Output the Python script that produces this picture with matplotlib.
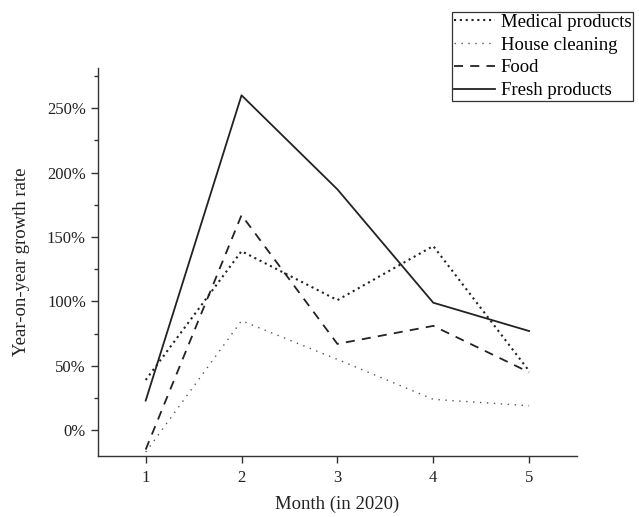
import matplotlib
matplotlib.use("Agg")
import matplotlib.pyplot as plt
from matplotlib.ticker import MultipleLocator, FuncFormatter

months = [1, 2, 3, 4, 5]
medical = [39, 139, 101, 143, 46]
house = [-17, 85, 55, 24, 19]
food = [-15, 167, 67, 81, 45]
fresh = [23, 260, 187, 99, 77]

plt.rcParams["font.family"] = ["Liberation Serif", "DejaVu Serif"]

fig = plt.figure(figsize=(6.39, 5.17), dpi=100)
ax = fig.add_axes([0.153, 0.118, 0.75, 0.75])

ax.plot(months, medical, color="#222222", lw=1.5, linestyle=(0, (1, 1.8)), label="Medical products")
ax.plot(months, house, color="#555555", lw=1.0, linestyle=(0, (1, 4)), label="House cleaning")
ax.plot(months, food, color="#222222", lw=1.3, linestyle=(0, (5, 4)), label="Food")
ax.plot(months, fresh, color="#222222", lw=1.3, linestyle="-", label="Fresh products")

ax.set_xlim(0.5, 5.5)
ax.set_ylim(-20, 281)
ax.set_xticks(months)
ax.yaxis.set_major_locator(MultipleLocator(50))
ax.yaxis.set_minor_locator(MultipleLocator(25))
ax.yaxis.set_major_formatter(FuncFormatter(lambda v, p: "%d%%" % v))

for s in ["top", "right"]:
    ax.spines[s].set_visible(False)
for s in ["left", "bottom"]:
    ax.spines[s].set_color("#333333")
    ax.spines[s].set_linewidth(1.0)
ax.tick_params(axis="both", which="major", direction="out", length=5, width=1, colors="#333333", labelsize=12, labelcolor="#222222")
ax.tick_params(axis="y", which="minor", direction="out", length=3, width=1, colors="#333333")
ax.tick_params(axis="x", pad=5)

ax.set_xlabel("Month (in 2020)", fontsize=13.5, labelpad=7, color="#222222")
ax.set_ylabel("Year-on-year growth rate", fontsize=13.5, labelpad=12, color="#222222")

leg = fig.legend(loc="upper left", bbox_to_anchor=(452 / 639, 1 - 12 / 517), fontsize=13.5,
                 frameon=True, fancybox=False, framealpha=1, edgecolor="#333333",
                 handlelength=2.2, handletextpad=0.3, borderpad=0.1, labelspacing=0.3,
                 borderaxespad=0)
leg.get_frame().set_linewidth(0.9)

fig.savefig("out.png", dpi=100)
